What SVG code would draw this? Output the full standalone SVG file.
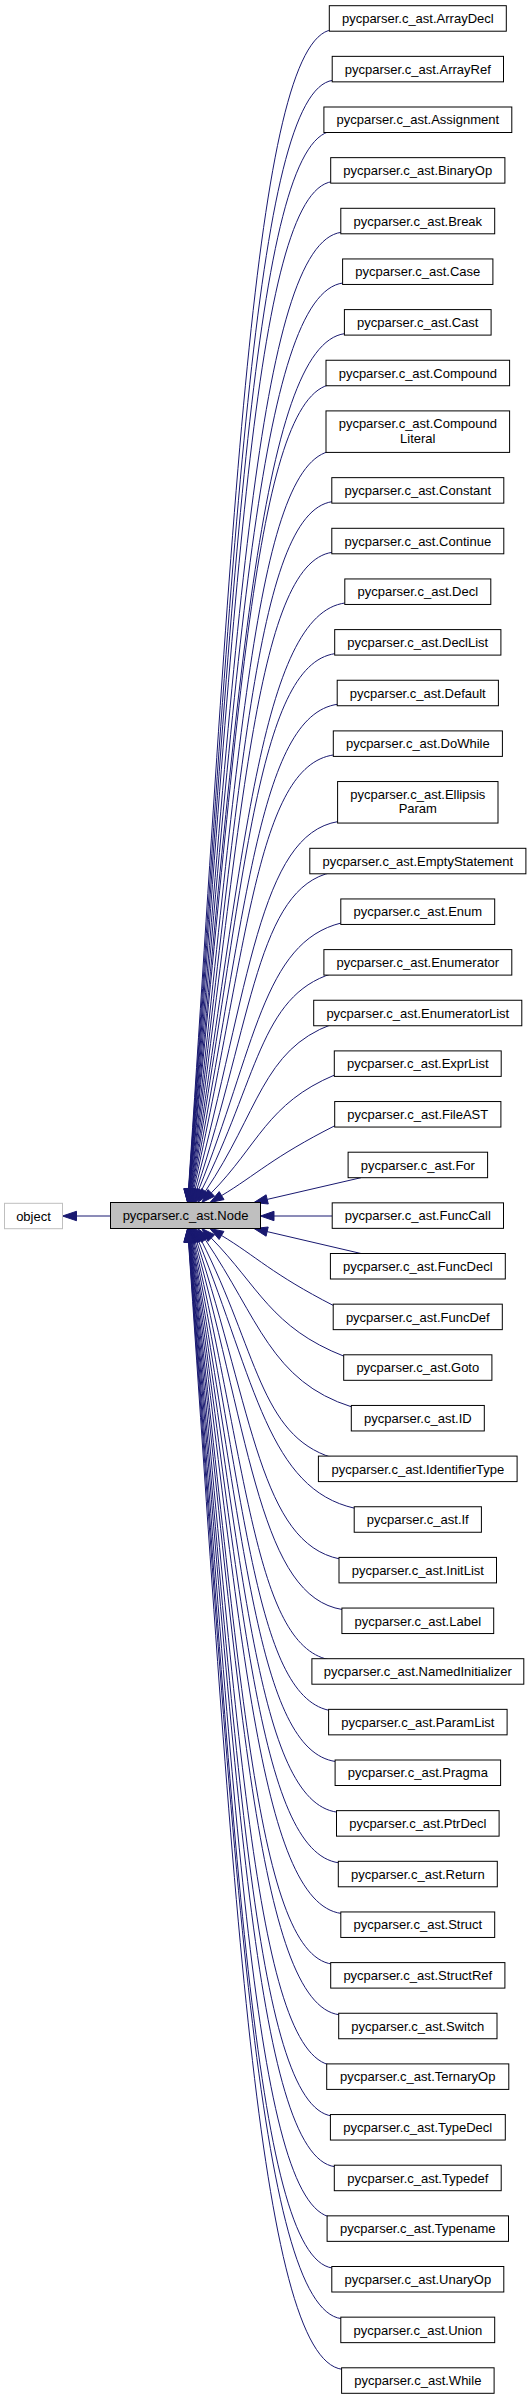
<svg xmlns="http://www.w3.org/2000/svg" width="532" height="2400" viewBox="0 0 532 2400">
<style>
.n rect{fill:#fff;stroke:#000;stroke-width:1}
text{font-family:"Liberation Sans",Arial,Helvetica,sans-serif;font-size:13px;fill:#000;text-anchor:middle}
.e path{fill:none;stroke:#191970;stroke-width:1}
.e polygon{fill:#191970;stroke:#191970;stroke-width:1}
</style>
<rect width="532" height="2400" fill="#fff"/>
<g id="edges" class="e">
<path d="M110.5,1216 L76.5,1216"/><polygon points="62.5,1216 76.5,1211.3 76.5,1220.7"/>
<path d="M332,29.7 C253.1,40.7 232.8,529.7 188.5,1189"/><polygon points="187.6,1202.5 193.2,1189.3 183.8,1188.7"/>
<path d="M332.7,80.35 C253.5,91.35 233.5,558.6 188.7,1189"/><polygon points="187.7,1202.5 193.4,1189.3 184,1188.7"/>
<path d="M332,131 C253.2,142 234.2,587.6 188.8,1189"/><polygon points="187.8,1202.5 193.5,1189.35 184.1,1188.65"/>
<path d="M332,181.65 C253.4,192.65 234.8,616.6 189,1189"/><polygon points="187.9,1202.5 193.7,1189.4 184.3,1188.6"/>
<path d="M341.3,232.3 C257.6,243.3 235.6,645.6 189.1,1189.05"/><polygon points="188,1202.5 193.8,1189.45 184.4,1188.65"/>
<path d="M343.1,282.95 C258.5,293.95 236.4,674.8 189.3,1189.06"/><polygon points="188.1,1202.5 194,1189.5 184.6,1188.6"/>
<path d="M344.9,333.6 C259.5,344.6 237.3,703.8 189.6,1189.07"/><polygon points="188.3,1202.5 194.3,1189.5 184.9,1188.6"/>
<path d="M332,384.25 C253.8,395.25 238.2,732.9 189.8,1189.08"/><polygon points="188.4,1202.5 194.5,1189.6 185.1,1188.6"/>
<path d="M332,450.9 C254.1,461.9 239,771.1 190.3,1189.1"/><polygon points="188.7,1202.5 195,1189.6 185.6,1188.6"/>
<path d="M332.3,501.65 C254.4,512.65 240.7,800.5 190.6,1189.1"/><polygon points="188.9,1202.5 195.3,1189.7 185.9,1188.5"/>
<path d="M332.3,552.3 C254.6,563.3 242,829.7 191.1,1189.1"/><polygon points="189.2,1202.5 195.75,1189.8 186.45,1188.45"/>
<path d="M345.3,602.95 C260.8,613.95 243.4,859.1 191.6,1189.2"/><polygon points="189.5,1202.5 196.2,1189.9 187,1188.5"/>
<path d="M335.2,653.6 C256.5,664.6 244.7,888.5 192.1,1189.2"/><polygon points="189.8,1202.5 196.7,1190 187.5,1188.4"/>
<path d="M337.7,704.25 C258,715.25 246.4,918 192.8,1189.3"/><polygon points="190.2,1202.5 197.4,1190.2 188.2,1188.4"/>
<path d="M333.8,754.9 C256.7,765.9 248.1,947.8 193.7,1189.3"/><polygon points="190.7,1202.5 198.3,1190.3 189.1,1188.3"/>
<path d="M338.1,821.55 C259.4,834.55 249.3,986.9 195,1189.5"/><polygon points="191.5,1202.5 199.5,1190.7 190.5,1188.3"/>
<path d="M332,872.3 C257.6,888.5 252.9,1017.7 196.7,1189.7"/><polygon points="192.5,1202.5 201.2,1191.2 192.2,1188.2"/>
<path d="M341.3,922.95 C262.8,942.25 255.1,1048.7 198.6,1190"/><polygon points="193.6,1202.5 203,1191.7 194.2,1188.3"/>
<path d="M332,973.6 C260.2,996 257.3,1080.2 201.4,1190.5"/><polygon points="195.3,1202.5 205.6,1192.6 197.2,1188.4"/>
<path d="M332,1024.25 C262.3,1049.85 258.7,1112.4 205.3,1191.3"/><polygon points="197.7,1202.5 209.2,1193.9 201.4,1188.7"/>
<path d="M334.8,1074.9 C266.9,1103.5 258.5,1145 211.3,1192.9"/><polygon points="201.8,1202.5 214.65,1196.2 207.95,1189.6"/>
<path d="M335.2,1125.55 C272.7,1157.15 255.8,1175.1 221.6,1195.6"/><polygon points="210,1202.5 224,1199.6 219.2,1191.6"/>
<path d="M361,1177.7 L267.2,1199.4"/><polygon points="254,1202.5 268.3,1204 266.1,1194.8"/>
<path d="M332.2,1216 L274,1216"/><polygon points="260.5,1216 274,1211.3 274,1220.7"/>
<path d="M361,1253.5 L267.15,1231.6"/><polygon points="254,1228.5 268.2,1227 266.1,1236.2"/>
<path d="M333.7,1305.65 C272,1274.05 255.8,1256.05 221.5,1235.45"/><polygon points="209.9,1228.5 223.9,1231.4 219.1,1239.5"/>
<path d="M344.2,1356.3 C271.1,1327.7 258.5,1286.2 211.3,1238.1"/><polygon points="201.8,1228.5 214.65,1234.8 207.95,1241.4"/>
<path d="M351.8,1406.95 C271.2,1381.45 258.7,1318.7 205.3,1239.7"/><polygon points="197.7,1228.5 209.2,1237.1 201.4,1242.3"/>
<path d="M332,1457.6 C260.2,1435.2 257.3,1350.95 201.4,1240.55"/><polygon points="195.3,1228.5 205.6,1238.4 197.2,1242.7"/>
<path d="M354.7,1508.25 C268.8,1488.95 255.1,1382.45 198.6,1241.05"/><polygon points="193.6,1228.5 203,1239.3 194.2,1242.8"/>
<path d="M339.5,1558.9 C261,1542.7 252.9,1413.45 196.7,1241.35"/><polygon points="192.5,1228.5 201.2,1239.9 192.2,1242.8"/>
<path d="M342.4,1609.55 C261.4,1596.55 250.8,1443.8 195.2,1241.5"/><polygon points="191.6,1228.5 199.7,1240.25 190.7,1242.75"/>
<path d="M332,1660.2 C256.1,1649.2 248.7,1473.85 194,1241.65"/><polygon points="190.9,1228.5 198.6,1240.6 189.4,1242.7"/>
<path d="M332,1710.85 C255.6,1699.85 246.9,1503.6 193.1,1241.7"/><polygon points="190.4,1228.5 197.7,1240.75 188.5,1242.65"/>
<path d="M335.6,1761.5 C256.8,1750.5 245.2,1533.3 192.3,1241.8"/><polygon points="189.9,1228.5 196.9,1240.95 187.7,1242.65"/>
<path d="M337,1812.15 C257.1,1801.15 243.8,1562.7 191.8,1241.8"/><polygon points="189.6,1228.5 196.4,1241.05 187.2,1242.55"/>
<path d="M338.8,1862.8 C257.6,1851.8 242.45,1592.05 191.25,1241.85"/><polygon points="189.3,1228.5 195.9,1241.2 186.6,1242.5"/>
<path d="M341.3,1913.45 C258.5,1902.45 241.2,1621.4 190.8,1241.9"/><polygon points="189,1228.5 195.5,1241.3 186.1,1242.5"/>
<path d="M332,1964.1 C254.1,1953.1 240,1650.5 190.4,1241.9"/><polygon points="188.8,1228.5 195.1,1241.35 185.7,1242.45"/>
<path d="M339.2,2014.75 C257.2,2003.75 239,1679.7 190.1,1241.9"/><polygon points="188.6,1228.5 194.8,1241.4 185.4,1242.4"/>
<path d="M332,2065.4 C253.8,2054.4 238,1708.8 189.8,1241.9"/><polygon points="188.4,1228.5 194.5,1241.4 185.1,1242.4"/>
<path d="M332,2116.05 C253.6,2105.05 237,1737.9 189.5,1241.9"/><polygon points="188.2,1228.5 194.2,1241.45 184.8,1242.35"/>
<path d="M334.8,2166.7 C254.8,2155.7 236.1,1766.95 189.3,1241.95"/><polygon points="188.1,1228.5 194,1241.5 184.6,1242.4"/>
<path d="M332,2217.35 C253.35,2206.35 235.3,1795.95 189,1241.95"/><polygon points="187.9,1228.5 193.7,1241.55 184.3,1242.35"/>
<path d="M332.3,2268 C253.4,2257 234.55,1824.95 188.85,1241.95"/><polygon points="187.8,1228.5 193.5,1241.6 184.2,1242.3"/>
<path d="M341.3,2318.65 C257.4,2307.65 233.8,1854.05 188.7,1241.95"/><polygon points="187.7,1228.5 193.4,1241.6 184,1242.3"/>
<path d="M342.1,2369.3 C257.6,2358.3 233.1,1882.95 188.5,1241.95"/><polygon points="187.6,1228.5 193.2,1241.6 183.8,1242.3"/>
</g>
<g id="object"><rect x="4.5" y="1203.3" width="58" height="25.4" fill="#fff" stroke="#bfbfbf"/><text x="33.5" y="1220.5">object</text></g>
<g id="Node"><rect x="110.5" y="1202.5" width="150" height="26" fill="#bfbfbf" stroke="#000"/><text x="185.5" y="1220.2">pycparser.c_ast.Node</text></g>
<g id="ArrayDecl" class="n"><rect x="329.3" y="5.7" width="177" height="25.5"/><text x="417.8" y="23.15">pycparser.c_ast.ArrayDecl</text></g>
<g id="ArrayRef" class="n"><rect x="332.2" y="56.35" width="171.3" height="25.5"/><text x="417.8" y="73.8">pycparser.c_ast.ArrayRef</text></g>
<g id="Assignment" class="n"><rect x="323.9" y="107" width="187.9" height="25.5"/><text x="417.8" y="124.45">pycparser.c_ast.Assignment</text></g>
<g id="BinaryOp" class="n"><rect x="330.7" y="157.65" width="174.2" height="25.5"/><text x="417.8" y="175.1">pycparser.c_ast.BinaryOp</text></g>
<g id="Break" class="n"><rect x="340.8" y="208.3" width="153.9" height="25.5"/><text x="417.8" y="225.75">pycparser.c_ast.Break</text></g>
<g id="Case" class="n"><rect x="342.6" y="258.95" width="150.3" height="25.5"/><text x="417.8" y="276.4">pycparser.c_ast.Case</text></g>
<g id="Cast" class="n"><rect x="344.4" y="309.6" width="146.7" height="25.5"/><text x="417.8" y="327.05">pycparser.c_ast.Cast</text></g>
<g id="Compound" class="n"><rect x="326" y="360.25" width="183.6" height="25.5"/><text x="417.8" y="377.7">pycparser.c_ast.Compound</text></g>
<g id="CompoundLiteral" class="n"><rect x="326" y="410.9" width="183.6" height="41.5"/><text x="417.8" y="428.4">pycparser.c_ast.Compound</text><text x="417.8" y="442.8">Literal</text></g>
<g id="Constant" class="n"><rect x="331.8" y="477.65" width="172" height="25.5"/><text x="417.8" y="495.1">pycparser.c_ast.Constant</text></g>
<g id="Continue" class="n"><rect x="331.8" y="528.3" width="172" height="25.5"/><text x="417.8" y="545.75">pycparser.c_ast.Continue</text></g>
<g id="Decl" class="n"><rect x="344.8" y="578.95" width="146" height="25.5"/><text x="417.8" y="596.4">pycparser.c_ast.Decl</text></g>
<g id="DeclList" class="n"><rect x="334.7" y="629.6" width="166.2" height="25.5"/><text x="417.8" y="647.05">pycparser.c_ast.DeclList</text></g>
<g id="Default" class="n"><rect x="337.2" y="680.25" width="161.2" height="25.5"/><text x="417.8" y="697.7">pycparser.c_ast.Default</text></g>
<g id="DoWhile" class="n"><rect x="333.3" y="730.9" width="169.1" height="25.5"/><text x="417.8" y="748.35">pycparser.c_ast.DoWhile</text></g>
<g id="EllipsisParam" class="n"><rect x="337.6" y="781.55" width="160.4" height="41.5"/><text x="417.8" y="799.05">pycparser.c_ast.Ellipsis</text><text x="417.8" y="813.45">Param</text></g>
<g id="EmptyStatement" class="n"><rect x="309.8" y="848.3" width="216.1" height="25.5"/><text x="417.8" y="865.75">pycparser.c_ast.EmptyStatement</text></g>
<g id="Enum" class="n"><rect x="340.8" y="898.95" width="153.9" height="25.5"/><text x="417.8" y="916.4">pycparser.c_ast.Enum</text></g>
<g id="Enumerator" class="n"><rect x="323.9" y="949.6" width="187.9" height="25.5"/><text x="417.8" y="967.05">pycparser.c_ast.Enumerator</text></g>
<g id="EnumeratorList" class="n"><rect x="313.7" y="1000.25" width="208.1" height="25.5"/><text x="417.8" y="1017.7">pycparser.c_ast.EnumeratorList</text></g>
<g id="ExprList" class="n"><rect x="334.3" y="1050.9" width="166.9" height="25.5"/><text x="417.8" y="1068.35">pycparser.c_ast.ExprList</text></g>
<g id="FileAST" class="n"><rect x="334.7" y="1101.55" width="166.2" height="25.5"/><text x="417.8" y="1119">pycparser.c_ast.FileAST</text></g>
<g id="For" class="n"><rect x="348.1" y="1152.2" width="139.5" height="25.5"/><text x="417.8" y="1169.65">pycparser.c_ast.For</text></g>
<g id="FuncCall" class="n"><rect x="332.2" y="1202.85" width="171.3" height="25.5"/><text x="417.8" y="1220.3">pycparser.c_ast.FuncCall</text></g>
<g id="FuncDecl" class="n"><rect x="330.4" y="1253.5" width="174.9" height="25.5"/><text x="417.8" y="1270.95">pycparser.c_ast.FuncDecl</text></g>
<g id="FuncDef" class="n"><rect x="333.2" y="1304.15" width="169.1" height="25.5"/><text x="417.8" y="1321.6">pycparser.c_ast.FuncDef</text></g>
<g id="Goto" class="n"><rect x="343.7" y="1354.8" width="148.2" height="25.5"/><text x="417.8" y="1372.25">pycparser.c_ast.Goto</text></g>
<g id="ID" class="n"><rect x="351.3" y="1405.45" width="133" height="25.5"/><text x="417.8" y="1422.9">pycparser.c_ast.ID</text></g>
<g id="IdentifierType" class="n"><rect x="318.4" y="1456.1" width="198.7" height="25.5"/><text x="417.8" y="1473.55">pycparser.c_ast.IdentifierType</text></g>
<g id="If" class="n"><rect x="354.2" y="1506.75" width="127.2" height="25.5"/><text x="417.8" y="1524.2">pycparser.c_ast.If</text></g>
<g id="InitList" class="n"><rect x="339" y="1557.4" width="157.5" height="25.5"/><text x="417.8" y="1574.85">pycparser.c_ast.InitList</text></g>
<g id="Label" class="n"><rect x="341.9" y="1608.05" width="151.8" height="25.5"/><text x="417.8" y="1625.5">pycparser.c_ast.Label</text></g>
<g id="NamedInitializer" class="n"><rect x="311.9" y="1658.7" width="211.9" height="25.5"/><text x="417.8" y="1676.15">pycparser.c_ast.NamedInitializer</text></g>
<g id="ParamList" class="n"><rect x="328.6" y="1709.35" width="178.5" height="25.5"/><text x="417.8" y="1726.8">pycparser.c_ast.ParamList</text></g>
<g id="Pragma" class="n"><rect x="335.1" y="1760" width="165.5" height="25.5"/><text x="417.8" y="1777.45">pycparser.c_ast.Pragma</text></g>
<g id="PtrDecl" class="n"><rect x="336.5" y="1810.65" width="162.6" height="25.5"/><text x="417.8" y="1828.1">pycparser.c_ast.PtrDecl</text></g>
<g id="Return" class="n"><rect x="338.3" y="1861.3" width="159" height="25.5"/><text x="417.8" y="1878.75">pycparser.c_ast.Return</text></g>
<g id="Struct" class="n"><rect x="340.8" y="1911.95" width="153.9" height="25.5"/><text x="417.8" y="1929.4">pycparser.c_ast.Struct</text></g>
<g id="StructRef" class="n"><rect x="330.7" y="1962.6" width="174.2" height="25.5"/><text x="417.8" y="1980.05">pycparser.c_ast.StructRef</text></g>
<g id="Switch" class="n"><rect x="338.7" y="2013.25" width="158.3" height="25.5"/><text x="417.8" y="2030.7">pycparser.c_ast.Switch</text></g>
<g id="TernaryOp" class="n"><rect x="326.7" y="2063.9" width="182.1" height="25.5"/><text x="417.8" y="2081.35">pycparser.c_ast.TernaryOp</text></g>
<g id="TypeDecl" class="n"><rect x="330.4" y="2114.55" width="174.9" height="25.5"/><text x="417.8" y="2132">pycparser.c_ast.TypeDecl</text></g>
<g id="Typedef" class="n"><rect x="334.3" y="2165.2" width="166.9" height="25.5"/><text x="417.8" y="2182.65">pycparser.c_ast.Typedef</text></g>
<g id="Typename" class="n"><rect x="327.1" y="2215.85" width="181.4" height="25.5"/><text x="417.8" y="2233.3">pycparser.c_ast.Typename</text></g>
<g id="UnaryOp" class="n"><rect x="331.8" y="2266.5" width="172" height="25.5"/><text x="417.8" y="2283.95">pycparser.c_ast.UnaryOp</text></g>
<g id="Union" class="n"><rect x="340.8" y="2317.15" width="153.9" height="25.5"/><text x="417.8" y="2334.6">pycparser.c_ast.Union</text></g>
<g id="While" class="n"><rect x="341.6" y="2367.8" width="152.5" height="25.5"/><text x="417.8" y="2385.25">pycparser.c_ast.While</text></g>
</svg>
